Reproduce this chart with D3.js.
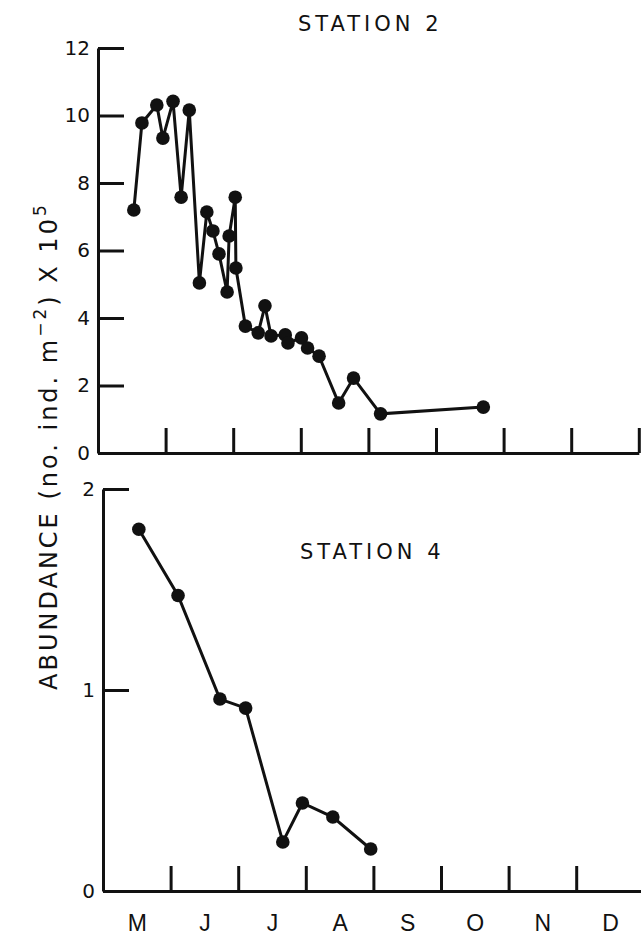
<!DOCTYPE html>
<html>
<head>
<meta charset="utf-8">
<script src="https://cdn.jsdelivr.net/npm/d3@7"></script>
<style>
  body { margin: 0; background: #fff; }
  svg { display: block; font-family: "DejaVu Sans", sans-serif; }
  .axis path, .axis line { stroke: #111; stroke-width: 3; }
  .axis text { fill: #111; font-size: 20px; }
</style>
</head>
<body>
<div id="chart"></div>
<script>
// Sampling time as months after 1 May (0 = 1 May, 1 = 1 June, ...)
const months = ["M", "J", "J", "A", "S", "O", "N", "D"];

// Station 2, abundance (no. ind. m^-2) x 10^5
const station2Time = [0.53, 0.65, 0.87, 0.96, 1.11, 1.23, 1.35, 1.50, 1.61, 1.70,
    1.79, 1.91, 1.94, 2.03, 2.04, 2.18, 2.37, 2.47, 2.56, 2.77,
    2.81, 3.01, 3.10, 3.27, 3.56, 3.78, 4.18, 5.70];
const station2Values = [7.2, 9.78, 10.31, 9.33, 10.42, 7.58, 10.16, 5.04, 7.14, 6.58,
    5.9, 4.77, 6.43, 7.58, 5.48, 3.76, 3.56, 4.36, 3.47, 3.5,
    3.26, 3.41, 3.11, 2.87, 1.48, 2.22, 1.16, 1.36];

// Station 4
const station4Time = [0.53, 1.11, 1.73, 2.11, 2.66, 2.95, 3.40, 3.96];
const station4Values = [1.80, 1.47, 0.955, 0.91, 0.244, 0.438, 0.368, 0.209];

const width = 641;
const height = 939;

const svg = d3.select("#chart").append("svg")
    .attr("width", width)
    .attr("height", height);

// Draw one panel
function drawPanel(cfg) {
    const x = d3.scaleLinear().domain([0, 8]).range([cfg.left, cfg.left + 8 * 67.6]);
    const y = d3.scaleLinear().domain([0, cfg.yMax]).range([cfg.bottom, cfg.top]);
    const g = svg.append("g");

    // y axis, ticks pointing inward
    g.append("g")
        .attr("class", "axis")
        .attr("transform", `translate(${cfg.left},0)`)
        .call(d3.axisLeft(y).tickValues(cfg.yTicks).tickSizeInner(-26).tickSizeOuter(0).tickPadding(8).tickFormat(d3.format("d")));

    // x axis, month boundaries
    g.append("g")
        .attr("class", "axis")
        .attr("transform", `translate(0,${cfg.bottom})`)
        .call(d3.axisBottom(x).tickValues(d3.range(1, 9)).tickSizeInner(-25).tickSizeOuter(0).tickFormat(""));

    g.selectAll(".axis text").attr("font-family", "DejaVu Sans");

    const pts = cfg.time.map((t, i) => [t, cfg.values[i]]);

    g.append("path")
        .datum(pts)
        .attr("fill", "none")
        .attr("stroke", "#111")
        .attr("stroke-width", 3)
        .attr("d", d3.line().x(d => x(d[0])).y(d => y(d[1])));

    g.selectAll("circle")
        .data(pts)
        .enter()
        .append("circle")
        .attr("cx", d => x(d[0]))
        .attr("cy", d => y(d[1]))
        .attr("r", 6.8)
        .attr("fill", "#111");

    g.append("text")
        .attr("x", cfg.titleX)
        .attr("y", cfg.titleY)
        .attr("font-size", 21)
        .attr("letter-spacing", 4)
        .attr("fill", "#111")
        .text(cfg.title);

    return x;
}

drawPanel({
    left: 98, top: 48, bottom: 453, yMax: 12,
    yTicks: [0, 2, 4, 6, 8, 10, 12],
    time: station2Time, values: station2Values,
    title: "STATION 2", titleX: 298, titleY: 31
});

const x4 = drawPanel({
    left: 103, top: 489, bottom: 891, yMax: 2,
    yTicks: [0, 1, 2],
    time: station4Time, values: station4Values,
    title: "STATION 4", titleX: 300, titleY: 559
});

// Month labels centred between the ticks
svg.append("g")
    .attr("class", "axis")
    .attr("transform", "translate(0,891)")
    .call(d3.axisBottom(x4).tickValues(d3.range(0.5, 8, 1)).tickSize(0).tickPadding(24)
        .tickFormat((d, i) => months[i]))
    .call(g => g.select(".domain").remove())
    .selectAll("text").style("font-size", "23px");

// Shared y-axis title
const yTitle = svg.append("text")
    .attr("transform", "translate(57,690) rotate(-90)")
    .attr("font-size", 24)
    .attr("letter-spacing", 3)
    .attr("fill", "#111");
yTitle.append("tspan").text("ABUNDANCE  (no. ind. m");
yTitle.append("tspan").attr("dy", -11).attr("font-size", 17).text("−2");
yTitle.append("tspan").attr("dy", 11).text(") X 10");
yTitle.append("tspan").attr("dy", -11).attr("font-size", 17).text("5");
</script>
</body>
</html>
